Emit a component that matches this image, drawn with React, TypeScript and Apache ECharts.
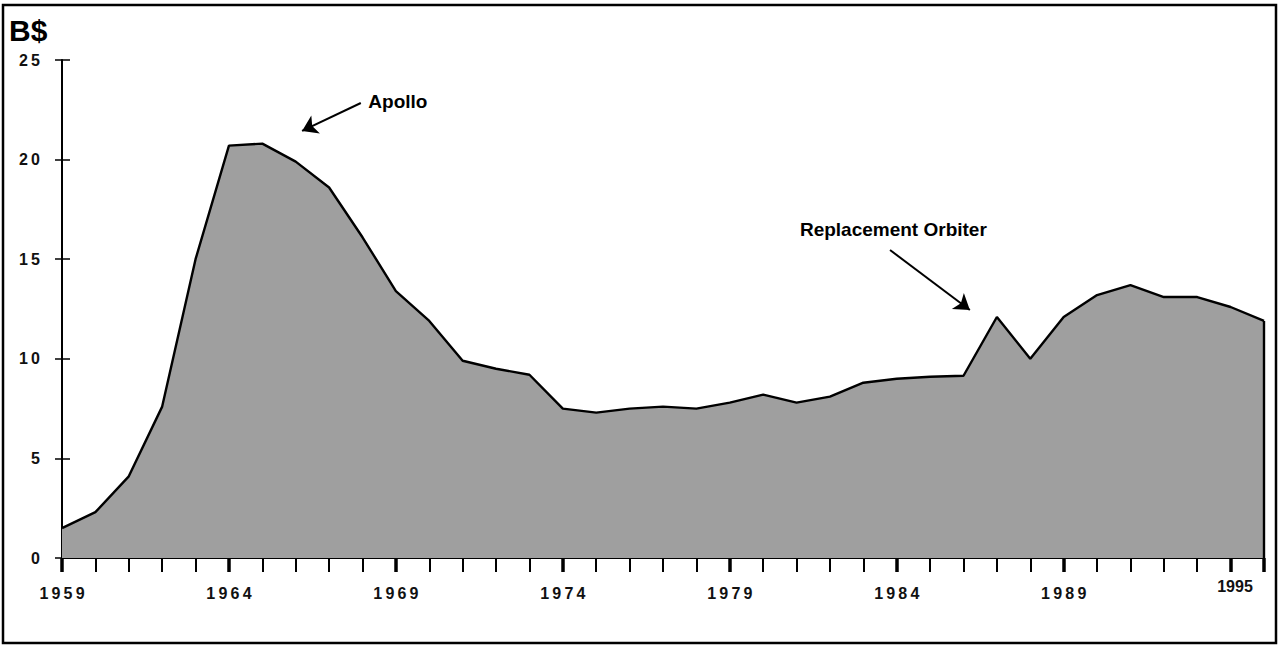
import React, { useEffect, useRef } from "react";
import * as echarts from "echarts";

const years = [
  1959, 1960, 1961, 1962, 1963, 1964, 1965, 1966, 1967, 1968,
  1969, 1970, 1971, 1972, 1973, 1974, 1975, 1976, 1977, 1978,
  1979, 1980, 1981, 1982, 1983, 1984, 1985, 1986, 1987, 1988,
  1989, 1990, 1991, 1992, 1993, 1994, 1995,
];
const budgetBillions = [
  1.5, 2.3, 4.1, 7.6, 15.0, 20.7, 20.8, 19.9, 18.6, 16.1,
  13.4, 11.9, 9.9, 9.5, 9.2, 7.5, 7.3, 7.5, 7.6, 7.5,
  7.8, 8.2, 7.8, 8.1, 8.8, 9.0, 9.1, 9.15, 12.1, 10.0,
  12.1, 13.2, 13.7, 13.1, 13.1, 12.6, 11.9,
];
const labeledYears = [1959, 1964, 1969, 1974, 1979, 1984, 1989];
const lastLabelYear = 1995;
const yTicks = [0, 5, 10, 15, 20, 25];

const annotations = [
  { name: "Apollo", text: [1969.06, 22.9], from: [1967.95, 22.84], to: [1966.19, 21.44] },
  { name: "Replacement Orbiter", text: [1983.9, 16.47], from: [1983.8, 15.46], to: [1986.19, 12.45] },
];

const FONT = "'Liberation Sans', Arial, Helvetica, sans-serif";

export default function App() {
  const ref = useRef<HTMLDivElement>(null);
  useEffect(() => {
    if (!ref.current) return;
    const chart = echarts.init(ref.current, null, { renderer: "svg" });
    const xMin = years[0];
    const xMax = years[years.length - 1];
    const lastVal = budgetBillions[budgetBillions.length - 1];
    const spaced = (s: string) => s.split("").join("\u2009");
    chart.setOption({
      animation: false,
      backgroundColor: "#ffffff",
      grid: { left: 62, right: 15, top: 60, bottom: 88 },
      xAxis: [
        {
          type: "value",
          position: "bottom",
          min: xMin,
          max: xMax,
          interval: 1,
          axisLine: { show: true, onZero: false, lineStyle: { color: "#000", width: 2 } },
          axisTick: { show: true, length: 14, lineStyle: { color: "#000", width: 2 } },
          splitLine: { show: false },
          axisLabel: {
            show: true,
            margin: 20,
            showMinLabel: true,
            showMaxLabel: true,
            hideOverlap: false,
            interval: 0,
            formatter: (v: number) => {
              if (v === lastLabelYear) return "{b|" + String(v) + "}";
              if (labeledYears.indexOf(v) >= 0) return "{a|" + spaced(String(v)) + "}";
              return "";
            },
            rich: {
              a: { fontFamily: FONT, fontWeight: "bold", fontSize: 16, color: "#111", padding: [7, 0, 0, 0] },
              b: { fontFamily: FONT, fontWeight: "bold", fontSize: 16, color: "#111", padding: [0, 58, 0, 0] },
            },
          },
        },
        {
          type: "value",
          position: "bottom",
          min: 0,
          max: xMax - xMin,
          interval: 5,
          axisLine: { show: false },
          axisTick: { show: true, length: 14, lineStyle: { color: "#000", width: 3.5 } },
          axisLabel: { show: false },
          splitLine: { show: false },
        },
      ],
      yAxis: [
        {
          type: "value",
          position: "left",
          min: yTicks[0],
          max: yTicks[yTicks.length - 1],
          interval: 5,
          axisLine: { show: true, onZero: false, lineStyle: { color: "#000", width: 2 } },
          axisTick: { show: true, length: 7, lineStyle: { color: "#000", width: 1.5 } },
          splitLine: { show: false },
          axisLabel: {
            margin: 22,
            fontFamily: FONT,
            fontWeight: "bold",
            fontSize: 16,
            color: "#111",
            formatter: (v: number) => spaced(String(v)),
          },
        },
        {
          type: "value",
          position: "left",
          min: yTicks[0],
          max: yTicks[yTicks.length - 1],
          interval: 5,
          axisLine: { show: false },
          axisTick: { show: true, inside: true, length: 8, lineStyle: { color: "#000", width: 1.5 } },
          axisLabel: { show: false },
          splitLine: { show: false },
        },
      ],
      graphic: [
        {
          type: "rect",
          shape: { x: 3, y: 5, width: 1273, height: 638 },
          style: { fill: "none", stroke: "#000", lineWidth: 2.5 },
          silent: true,
        },
        {
          type: "text",
          left: 9,
          top: 15,
          style: { text: "B$", font: "bold 30px " + FONT, fill: "#000" },
        },
      ],
      series: [
        {
          type: "line",
          xAxisIndex: 0,
          yAxisIndex: 0,
          data: years.map((y, i) => [y, budgetBillions[i]]),
          symbol: "none",
          lineStyle: { color: "#000", width: 2.4 },
          areaStyle: { color: "#9f9f9f", opacity: 1 },
          z: 2,
          markLine: {
            silent: true,
            animation: false,
            label: { show: false },
            symbol: ["none", "none"],
            lineStyle: { color: "#000", width: 2, type: "solid" },
            data: [
              [
                { coord: [xMax, 0], lineStyle: { color: "#000", width: 2.4, type: "solid" }, symbol: "none" },
                { coord: [xMax, lastVal], symbol: "none" },
              ],
              ...annotations.map((a) => [
                { coord: a.from, lineStyle: { color: "#000", width: 2, type: "solid" }, symbol: "none" },
                { coord: a.to, symbol: "arrow", symbolSize: 15 },
              ]),
            ],
          },
          markPoint: {
            silent: true,
            symbol: "circle",
            symbolSize: 1,
            itemStyle: { color: "rgba(0,0,0,0)" },
            label: {
              show: true,
              position: "inside",
              formatter: "{b}",
              fontFamily: FONT,
              fontWeight: "bold",
              fontSize: 19,
              color: "#000",
            },
            data: annotations.map((a) => ({ name: a.name, coord: a.text })),
          },
        },
      ],
    });
    return () => chart.dispose();
  }, []);
  return (
    <div
      ref={ref}
      style={{ position: "fixed", left: 0, top: 0, width: 1279, height: 646, background: "#fff" }}
    />
  );
}
